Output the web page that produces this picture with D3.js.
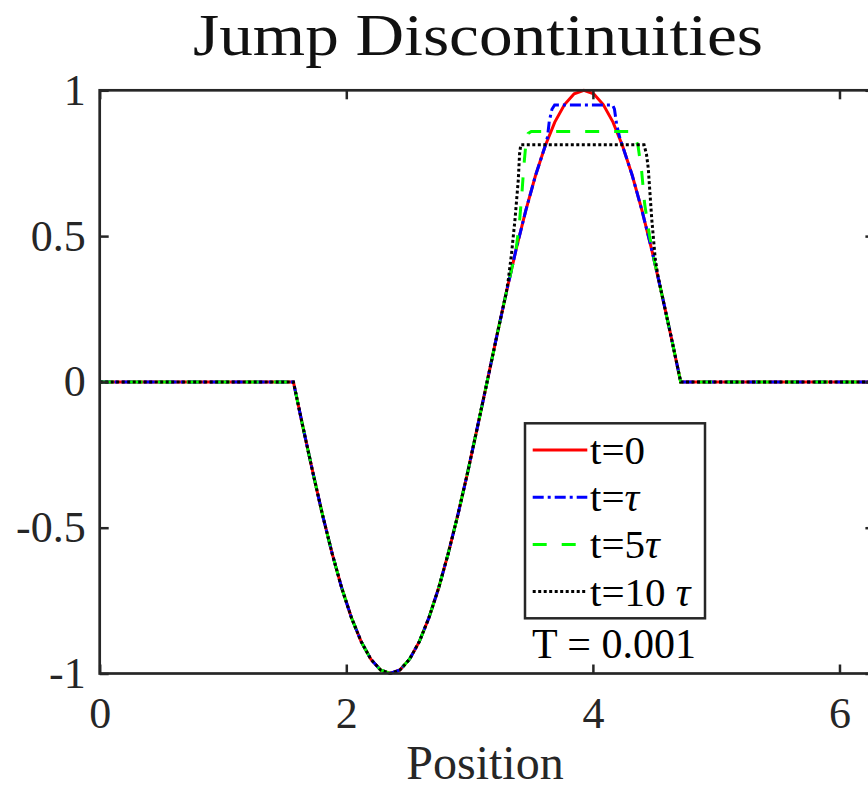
<!DOCTYPE html>
<html><head><meta charset="utf-8">
<script src="https://cdn.jsdelivr.net/npm/d3@7"></script>
<style>body{margin:0;background:#fff} svg{display:block}</style>
</head><body><svg id="c" width="868" height="789"></svg>
<script>
// ---- data ----
const xTicks = [0, 2, 4, 6];
const yTicks = [-1, -0.5, 0, 0.5, 1];
const xDomain = [0, 6.2832];
const yDomain = [-1, 1];
const seriesLabels = ["t=0", "t=τ", "t=5τ", "t=10 τ"];
const titleText = "Jump Discontinuities";
const xLabel = "Position";
const noteText = "T = 0.001";

// t = 0 curve
const curveT0 = [[0,0],[1.571,0],[1.649,-0.156],[1.728,-0.309],[1.806,-0.454],[1.885,-0.588],[1.963,-0.707],
 [2.042,-0.809],[2.121,-0.891],[2.199,-0.951],[2.278,-0.988],[2.356,-1],[2.435,-0.988],[2.513,-0.951],
 [2.592,-0.891],[2.670,-0.809],[2.749,-0.707],[2.827,-0.588],[2.906,-0.454],[2.985,-0.309],[3.063,-0.156],
 [3.142,0],[3.220,0.156],[3.299,0.309],[3.377,0.454],[3.456,0.588],[3.534,0.707],[3.613,0.809],[3.691,0.891],
 [3.770,0.951],[3.848,0.988],[3.927,1],[4.006,0.988],[4.084,0.951],[4.163,0.891],[4.241,0.809],[4.320,0.707],
 [4.398,0.588],[4.477,0.454],[4.555,0.309],[4.634,0.156],[4.712,0],[6.2832,0]];

// flattened tops for later times
const topTau = [[3.632,0.84],[3.646,0.893],[3.668,0.935],[3.69,0.95],[4.16,0.95],[4.175,0.935],[4.193,0.882],[4.22,0.834]];
const top5Tau = [[3.405,0.55],[3.425,0.65],[3.44,0.74],[3.455,0.81],[3.475,0.852],[3.50,0.859],[4.29,0.859],[4.33,0.85],
 [4.366,0.81],[4.396,0.72],[4.42,0.61],[4.46,0.50],[4.50,0.412]];
const top10Tau = [[3.314,0.35],[3.341,0.443],[3.368,0.556],[3.395,0.693],[3.405,0.78],[3.415,0.813],[4.415,0.813],
 [4.435,0.78],[4.449,0.733],[4.477,0.561],[4.505,0.425],[4.525,0.37]];

function withTop(top){
  const a = top[0][0], b = top[top.length-1][0];
  return curveT0.filter(p => p[0] < a).concat(top, curveT0.filter(p => p[0] > b));
}
const seriesData = [curveT0, withTop(topTau), withTop(top5Tau), withTop(top10Tau)];
const seriesColors = ["#ff0000", "#0000ff", "#00ff00", "#000000"];
const seriesDash = [null, "11,4,3,4", "14,15", "3,2.5"];

// ---- layout ----
const L = 99.7, R = 874.4, T = 90.3, B = 673.5;
const axisColor = "#262626";
const font = "'Liberation Serif','Times New Roman',serif";

const svg = d3.select("#c");
const x = d3.scaleLinear().domain(xDomain).range([L, R]);
const y = d3.scaleLinear().domain(yDomain).range([B, T]);

svg.append("defs").append("clipPath").attr("id","clip")
  .append("rect").attr("x",L).attr("y",T-3).attr("width",R-L).attr("height",B-T+6);

// lines
const line = d3.line().x(d => x(d[0])).y(d => y(d[1]));
const g = svg.append("g").attr("clip-path","url(#clip)");
seriesData.forEach((d,i) => {
  g.append("path").attr("d", line(d)).attr("fill","none")
   .attr("stroke", seriesColors[i]).attr("stroke-width", 3)
   .attr("stroke-dasharray", seriesDash[i]);
});

// axes
function styleAxis(sel){
  sel.selectAll(".domain").remove();
  sel.selectAll(".tick line").attr("stroke", axisColor).attr("stroke-width", 2.5);
  sel.selectAll(".tick text").attr("fill", axisColor).style("font-family", font).style("font-size","44px");
}
svg.append("g").attr("transform",`translate(0,${B})`)
  .call(d3.axisBottom(x).tickValues(xTicks).tickSize(-9).tickPadding(23).tickFormat(d3.format("d")))
  .call(styleAxis);
svg.append("g").attr("transform",`translate(0,${T})`)
  .call(d3.axisTop(x).tickValues(xTicks).tickSize(-9).tickFormat(""))
  .call(styleAxis);
svg.append("g").attr("transform",`translate(${L},0)`)
  .call(d3.axisLeft(y).tickValues(yTicks).tickSize(-9).tickPadding(14).tickFormat(d => d3.format("")(d).replace("−","-")))
  .call(styleAxis);
svg.append("g").attr("transform",`translate(${R},0)`)
  .call(d3.axisRight(y).tickValues(yTicks).tickSize(-9).tickFormat(""))
  .call(styleAxis);

svg.append("rect").attr("x",L).attr("y",T).attr("width",R-L).attr("height",B-T)
  .attr("fill","none").attr("stroke",axisColor).attr("stroke-width",2.7);

// title & label
svg.append("text").attr("x",478).attr("y",55).attr("text-anchor","middle")
  .attr("textLength",570).attr("lengthAdjust","spacingAndGlyphs")
  .style("font-family",font).style("font-size","60px").attr("fill","#111").text(titleText);
svg.append("text").attr("x",485).attr("y",779).attr("text-anchor","middle")
  .style("font-family",font).style("font-size","48px").attr("fill",axisColor).text(xLabel);

// legend
const lg = svg.append("g");
lg.append("rect").attr("x",525).attr("y",423.3).attr("width",180).attr("height",195)
  .attr("fill","#fff").attr("stroke",axisColor).attr("stroke-width",2.5);
seriesLabels.forEach((lab,i) => {
  const yy = 450 + i*47.2;
  lg.append("line").attr("x1",532.7).attr("x2",587.3).attr("y1",yy).attr("y2",yy)
    .attr("stroke",seriesColors[i]).attr("stroke-width",3).attr("stroke-dasharray",seriesDash[i]);
  const t = lg.append("text").attr("x",590).attr("y",yy+14)
    .style("font-family",font).style("font-size","41px").attr("fill","#000");
  const parts = lab.split("τ");
  t.append("tspan").text(parts[0]);
  if (parts.length > 1) t.append("tspan").style("font-style","italic").text("τ");
});
svg.append("text").attr("x",614).attr("y",658).attr("text-anchor","middle")
  .style("font-family",font).style("font-size","42px").attr("fill","#000").text(noteText);
</script>
</body></html>
